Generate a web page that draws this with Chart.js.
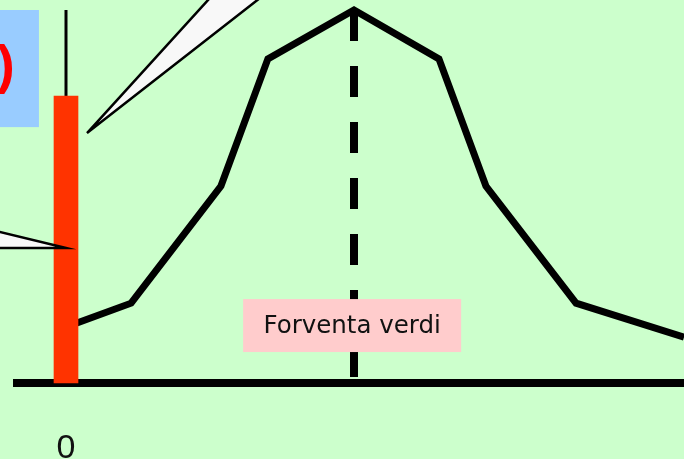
<!DOCTYPE html>
<html lang="no">
<head>
  <meta charset="UTF-8">
  <title>Forventa verdi</title>
  <script src="https://cdn.jsdelivr.net/npm/chart.js"></script>
  <style>
    body { margin: 0; background: #ccffcc; }
    #wrap { width: 684px; height: 459px; position: relative; }
  </style>
</head>
<body>
  <div id="wrap"><canvas id="chart"></canvas></div>

  <script>
    // curve (x = outcome, y = relative height, 0..100)
    const curveX = [0, 2.26, 5.38, 7.01, 10, 12.95, 14.58, 17.71, 21.46];
    const curveY = [15.0, 21.4, 52.8, 86.9, 100, 86.9, 52.8, 21.4, 12.3];

    // observed value bar at 0
    const barX = [0];
    const barY = [76.9];

    const expectedValue = 10;
    const xTickValues = [0];
    const xTickLabels = ['0'];
    const labelText = 'Forventa verdi';

    // decorations, in data units
    const calloutTop = [[0.73, 67.0], [5.56, 108], [7.53, 108]];
    const calloutLeft = [[0, 36.2], [-2.99, 41.8], [-2.99, 36.2]];
    const blueBox = [-2.3, 68.6, -0.94, 100];
    const labelBox = [6.15, 8.3, 13.72, 22.5];

    const xMin = -66 / 28.8, xMax = 618 / 28.8;
    const yMin = (383 - 459) / 3.73, yMax = 383 / 3.73;

    const decorations = {
      id: 'decorations',
      afterDatasetsDraw(chart) {
        const ctx = chart.ctx;
        const xs = chart.scales.x, ys = chart.scales.y;
        const px = v => xs.getPixelForValue(v);
        const py = v => ys.getPixelForValue(v);

        function callout(pts) {
          ctx.beginPath();
          pts.forEach((p, i) => i ? ctx.lineTo(px(p[0]), py(p[1])) : ctx.moveTo(px(p[0]), py(p[1])));
          ctx.closePath();
          ctx.fillStyle = '#f8f8f8';
          ctx.fill();
          ctx.lineWidth = 2.5;
          ctx.strokeStyle = '#000';
          ctx.lineJoin = 'miter';
          ctx.stroke();
        }

        ctx.save();
        callout(calloutTop);
        callout(calloutLeft);

        // blue box with clipped red text
        const bx = px(blueBox[0]), by = py(blueBox[3]);
        const bw = px(blueBox[2]) - bx, bh = py(blueBox[1]) - by;
        ctx.fillStyle = '#99ccff';
        ctx.fillRect(bx, by, bw, bh);
        ctx.save();
        ctx.beginPath();
        ctx.rect(bx, by, bw, bh);
        ctx.clip();
        ctx.fillStyle = '#ff0000';
        ctx.font = 'bold 54px "Liberation Sans"';
        ctx.textAlign = 'right';
        ctx.textBaseline = 'middle';
        ctx.fillText(')', px(-1.78), py(84.5));
        ctx.restore();

        // expected value label
        const lx = px(labelBox[0]), ly = py(labelBox[3]);
        const lw = px(labelBox[2]) - lx, lh = py(labelBox[1]) - ly;
        ctx.fillStyle = '#ffcccc';
        ctx.fillRect(lx, ly, lw, lh);
        ctx.fillStyle = '#111';
        ctx.font = '24.5px "DejaVu Sans"';
        ctx.textAlign = 'center';
        ctx.textBaseline = 'middle';
        ctx.fillText(labelText, lx + lw / 2, ly + lh / 2 + 1);

        // x tick labels, under the baseline
        ctx.font = '34px "Liberation Sans"';
        ctx.textBaseline = 'alphabetic';
        xTickValues.forEach((v, i) => ctx.fillText(xTickLabels[i], px(v), py(0) + 74.5));
        ctx.restore();
      }
    };

    const lineStyle = { pointRadius: 0, fill: false, tension: 0 };

    new Chart(document.getElementById('chart'), {
      type: 'line',
      data: {
        datasets: [
          {
            type: 'bar',
            data: barX.map((x, i) => ({ x, y: barY[i] })),
            backgroundColor: '#ff3300',
            barThickness: 24,
            borderWidth: 0
          },
          {
            data: [{ x: barX[0], y: barY[0] }, { x: barX[0], y: 100 }],
            borderColor: '#000',
            borderWidth: 3,
            ...lineStyle
          },
          {
            data: curveX.map((x, i) => ({ x, y: curveY[i] })),
            borderColor: '#000',
            borderWidth: 7,
            borderJoinStyle: 'miter',
            ...lineStyle
          },
          {
            data: [{ x: expectedValue, y: 100 }, { x: expectedValue, y: 0 }],
            borderColor: '#000',
            borderWidth: 8,
            borderDash: [31, 25],
            ...lineStyle
          },
          {
            data: [{ x: -1.84, y: 0 }, { x: xMax, y: 0 }],
            borderColor: '#000',
            borderWidth: 8,
            ...lineStyle
          }
        ]
      },
      options: {
        responsive: true,
        maintainAspectRatio: false,
        animation: false,
        clip: false,
        layout: { padding: 0 },
        plugins: { legend: { display: false }, tooltip: { enabled: false } },
        scales: {
          x: { type: 'linear', display: false, min: xMin, max: xMax, offset: false },
          y: { display: false, min: yMin, max: yMax }
        }
      },
      plugins: [decorations]
    });
  </script>
</body>
</html>
